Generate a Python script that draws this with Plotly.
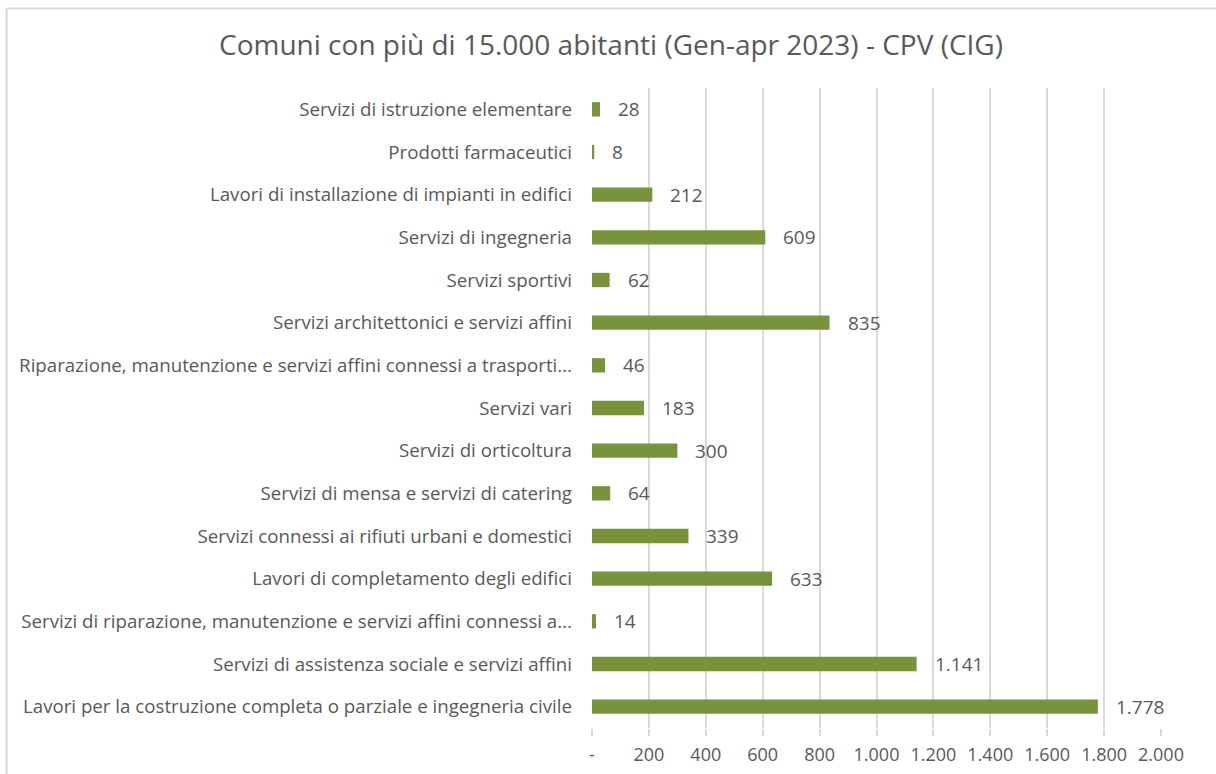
import plotly.graph_objects as go

categories = [
    "Servizi di istruzione elementare",
    "Prodotti farmaceutici",
    "Lavori di installazione di impianti in edifici",
    "Servizi di ingegneria",
    "Servizi sportivi",
    "Servizi architettonici e servizi affini",
    "Riparazione, manutenzione e servizi affini connessi a trasporti...",
    "Servizi vari",
    "Servizi di orticoltura",
    "Servizi di mensa e servizi di catering",
    "Servizi connessi ai rifiuti urbani e domestici",
    "Lavori di completamento degli edifici",
    "Servizi di riparazione, manutenzione e servizi affini connessi a...",
    "Servizi di assistenza sociale e servizi affini",
    "Lavori per la costruzione completa o parziale e ingegneria civile",
]
values = [28, 8, 212, 609, 62, 835, 46, 183, 300, 64, 339, 633, 14, 1141, 1778]
tick_vals = [0, 200, 400, 600, 800, 1000, 1200, 1400, 1600, 1800, 2000]
tick_text = ["-", "200", "400", "600", "800", "1.000", "1.200", "1.400", "1.600", "1.800", "2.000"]

def it_fmt(v):
    return f"{v:,}".replace(",", ".")

FONT = "'Open Sans', 'Noto Sans', sans-serif"
TXT = "#595959"
GREEN = "#77933C"

fig = go.Figure()
fig.add_trace(go.Bar(
    x=values, y=categories, orientation="h",
    marker=dict(color=GREEN, line=dict(width=0)),
    hoverinfo="skip",
))

for c, v in zip(categories, values):
    fig.add_annotation(
        x=v, y=c, xref="x", yref="y", text=it_fmt(v),
        showarrow=False, xanchor="left", yanchor="middle", xshift=16,
        font=dict(family=FONT, size=19, color=TXT),
    )

# chart border (cropped: left and top visible)
L, R, T, B = 592, 1160.7, 87.6, 728
def px_x(p):
    return (p - L) / (R - L)
def px_y(p):
    return (B - p) / (B - T)
fig.add_shape(type="line", xref="paper", yref="paper",
              x0=px_x(7), x1=px_x(1230), y0=px_y(8), y1=px_y(8),
              line=dict(color="#D9D9D9", width=2))
fig.add_shape(type="line", xref="paper", yref="paper",
              x0=px_x(7), x1=px_x(7), y0=px_y(8), y1=px_y(790),
              line=dict(color="#D9D9D9", width=2))

fig.update_layout(
    width=1216, height=774,
    paper_bgcolor="white", plot_bgcolor="white",
    margin=dict(l=592, r=1216 - 1160.7, t=87.6, b=774 - 728, autoexpand=False),
    title=dict(text="Comuni con più di 15.000 abitanti (Gen-apr 2023) - CPV (CIG)",
               x=611 / 1216, xref="container", xanchor="center",
               y=1 - 45 / 774, yref="container", yanchor="middle",
               font=dict(family=FONT, size=28, color=TXT)),
    bargap=0.665,
    showlegend=False,
    font=dict(family=FONT, color=TXT),
)
fig.update_xaxes(
    range=[0, 2000], tickvals=tick_vals, ticktext=tick_text,
    showgrid=True, gridcolor="#D9D9D9", gridwidth=1.5,
    zeroline=False, showline=False,
    ticks="outside", ticklen=7, tickcolor="#D9D9D9", tickwidth=1.5,
    ticklabelstandoff=3,
    tickfont=dict(family=FONT, size=18, color=TXT),
    fixedrange=True,
)
fig.update_yaxes(
    autorange="reversed", showgrid=False, zeroline=False, showline=False,
    ticks="", ticklabelstandoff=19,
    tickfont=dict(family=FONT, size=18.7, color=TXT),
    fixedrange=True,
)

fig.write_html(
    "out.html",
    config={"displayModeBar": False},
    post_script="document.body.style.margin='0';document.body.style.overflow='hidden';",
)
